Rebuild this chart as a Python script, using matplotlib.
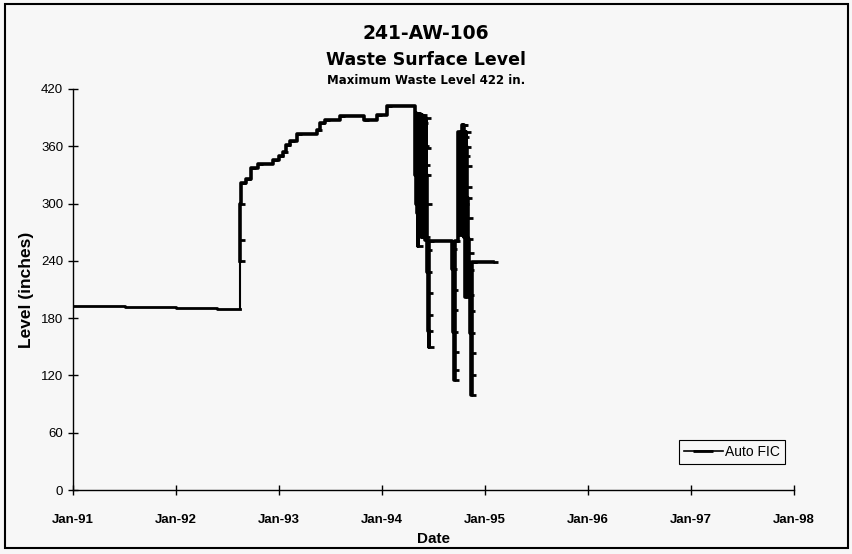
import datetime as dt
import numpy as np
import matplotlib
matplotlib.use("Agg")
import matplotlib.pyplot as plt
import matplotlib.dates as mdates
from matplotlib.patches import Rectangle
from matplotlib.lines import Line2D

# readings as decimal years / level in inches
base_years = [1991.00, 1991.50, 1992.00, 1992.40, 1992.620]
base_levels = [193, 192, 191, 190, 190]

fill_years = [1992.620, 1992.623, 1992.626, 1992.630,
              1992.68, 1992.73, 1992.80, 1992.94, 1993.00, 1993.04, 1993.07, 1993.11,
              1993.17, 1993.37, 1993.40, 1993.45, 1993.59, 1993.82, 1993.95, 1994.05]
fill_levels = [240, 262, 300, 322,
               326, 337, 341, 346, 350, 354, 361, 366,
               373, 377, 384, 388, 392, 388, 393, 402]

block1_years = [1994.320, 1994.324, 1994.328, 1994.332, 1994.336, 1994.340, 1994.344,
                1994.348, 1994.352, 1994.356, 1994.360, 1994.364, 1994.368, 1994.372,
                1994.376, 1994.380, 1994.384, 1994.388, 1994.392, 1994.396, 1994.400,
                1994.404, 1994.408, 1994.412, 1994.416, 1994.420]
block1_levels = [395, 330, 395, 300, 385, 290, 370, 256, 375, 300, 390, 285, 393,
                 280, 380, 265, 393, 310, 370, 265, 384, 330, 360, 265, 340, 262]

drain1_years = [1994.424, 1994.427, 1994.430, 1994.433, 1994.436, 1994.439,
                1994.442, 1994.445, 1994.448, 1994.452]
drain1_levels = [390, 358, 330, 300, 251, 228, 206, 183, 167, 150]

hold_years = [1994.456, 1994.680, 1994.683, 1994.686, 1994.689, 1994.692,
              1994.695, 1994.698, 1994.701, 1994.704]
hold_levels = [261, 252, 231, 209, 188, 166, 145, 126, 115, 261]

block2_years = [1994.740, 1994.744, 1994.748, 1994.752, 1994.756, 1994.760, 1994.764,
                1994.768, 1994.772, 1994.776, 1994.780, 1994.784, 1994.788, 1994.792,
                1994.796, 1994.800, 1994.804, 1994.808]
block2_levels = [375, 270, 372, 300, 368, 267, 375, 290, 360, 270, 382, 300, 382,
                 265, 370, 300, 350, 202]

drain2_years = [1994.812, 1994.816, 1994.820, 1994.824, 1994.828, 1994.832, 1994.836,
                1994.840, 1994.844, 1994.848, 1994.852, 1994.856, 1994.860, 1994.864,
                1994.868, 1994.872, 1994.876, 1995.080]
drain2_levels = [375, 359, 339, 317, 306, 285, 263, 248, 230, 204, 187, 164, 143,
                 120, 100, 239, 239, 239]

tick_years = list(range(1991, 1999))


def to_date(y):
    base = dt.datetime(int(y), 1, 1)
    return base + dt.timedelta(days=(y - int(y)) * 365.25)


years = fill_years + block1_years + drain1_years + hold_years + block2_years + drain2_years
levels = fill_levels + block1_levels + drain1_levels + hold_levels + block2_levels + drain2_levels
dates = [to_date(y) for y in years]
base_dates = [to_date(y) for y in base_years]

plt.rcParams["font.family"] = ["Liberation Sans", "DejaVu Sans"]

fig = plt.figure(figsize=(8.52, 5.54), dpi=100, facecolor="#f7f7f7")
ax = fig.add_axes([0.0857, 0.1155, 0.8463, 0.7239], facecolor="#f7f7f7")

dash = [(0, 0), (1, 0)]
ax.plot(base_dates, base_levels, color="black", lw=2.0, drawstyle="steps-post")
ax.plot([base_dates[-1], dates[0]], [base_levels[-1], levels[0]], color="black", lw=1.5)
ax.plot(dates, levels, color="black", lw=2.6, drawstyle="steps-post",
        marker=dash, markersize=7, markeredgewidth=2)

ax.set_xlim(dt.datetime(1991, 1, 1), dt.datetime(1998, 1, 1))
ax.set_ylim(0, 420)
ax.set_xticks([dt.datetime(y, 1, 1) for y in tick_years])
ax.xaxis.set_major_formatter(mdates.DateFormatter("%b-%y"))
ax.set_yticks(np.arange(0, 421, 60))

for side in ("top", "right"):
    ax.spines[side].set_visible(False)
ax.spines["left"].set_linewidth(1)
ax.spines["bottom"].set_linewidth(1)
ax.tick_params(direction="inout", length=7, width=1, labelsize=9.5)
ax.tick_params(axis="x", pad=14)
for lab in ax.get_xticklabels():
    lab.set_fontweight("bold")

ax.set_xlabel("Date", fontsize=11, fontweight="bold", labelpad=4)
ax.set_ylabel("Level (inches)", fontsize=12.5, fontweight="bold", labelpad=5)

title_font = ["DejaVu Sans"]
fig.text(0.5, 0.940, "241-AW-106", ha="center", va="center", fontsize=13.5,
         fontweight="bold", family=title_font)
fig.text(0.5, 0.892, "Waste Surface Level", ha="center", va="center", fontsize=12.5,
         fontweight="bold", family=title_font)
fig.text(0.5, 0.854, "Maximum Waste Level 422 in.", ha="center", va="center", fontsize=8.5,
         fontweight="bold", family=title_font)

handle = Line2D([], [], color="black", lw=1.2, marker="_", markersize=14, markeredgewidth=2)
leg = ax.legend([handle], ["Auto FIC"], loc="lower right", bbox_to_anchor=(0.9875, 0.065),
                borderaxespad=0, fontsize=10, numpoints=1, frameon=True, fancybox=False,
                edgecolor="black", framealpha=1, facecolor="#f7f7f7", handlelength=2.8,
                borderpad=0.35, handletextpad=0.2)
leg.get_frame().set_linewidth(0.8)

fig.patches.append(Rectangle((0.006, 0.011), 0.989, 0.981, transform=fig.transFigure,
                             fill=False, edgecolor="black", lw=1.5))

fig.savefig("out.png", dpi=100, facecolor=fig.get_facecolor())
